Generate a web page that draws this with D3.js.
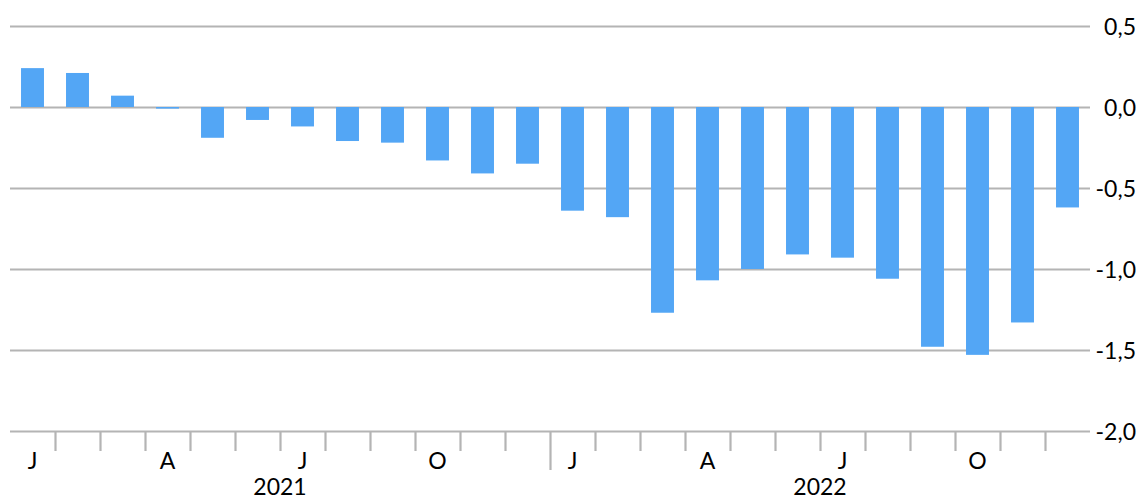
<!DOCTYPE html>
<html>
<head>
<meta charset="utf-8">
<script src="https://d3js.org/d3.v7.min.js"></script>
<style>
  body { margin: 0; background: #fff; }
  text { font-family: Lato, "Open Sans", sans-serif; fill: #000; }
</style>
</head>
<body>
<script>
// months Jan 2021 .. Dec 2022
var years = ["2021", "2022"];
var monthLabels = ["J", "", "", "A", "", "", "J", "", "", "O", "", ""];
var values = [0.24, 0.21, 0.07, -0.01, -0.19, -0.08, -0.12, -0.21, -0.22, -0.33, -0.41, -0.35,
              -0.64, -0.68, -1.27, -1.07, -1.00, -0.91, -0.93, -1.06, -1.48, -1.53, -1.33, -0.62];
var yTicks = [0.5, 0, -0.5, -1, -1.5, -2];

var w = 1141, h = 500;
var mLeft = 10, mRight = 1090, mTop = 26, mBottom = 431;

var svg = d3.select("body").append("svg").attr("width", w).attr("height", h);

var idx = d3.range(values.length);
var x = d3.scaleBand().domain(idx).range([mLeft, mRight]).paddingInner(0.49).paddingOuter(0.245);
var xb = d3.scaleLinear().domain([0, values.length]).range([mLeft, mRight]);
var y = d3.scaleLinear().domain([-2, 0.5]).range([mBottom, mTop]);

// gridlines + right labels
var yAxis = d3.axisRight(y).tickValues(yTicks).tickSize(-(mRight - mLeft))
  .tickFormat(function(d){ return d3.format(".1f")(d).replace(".", ",").replace("−", "-"); });
var yg = svg.append("g").attr("transform", "translate(" + mRight + ",0)").call(yAxis);
yg.select(".domain").remove();
yg.selectAll("line").attr("stroke", "#b4b4b4").attr("stroke-width", 2.2);
yg.selectAll("text").attr("x", 46).attr("text-anchor", "end").attr("dy", "0.36em")
  .style("font-size", "23px");

// bars
svg.append("g").selectAll("rect").data(values).enter().append("rect")
  .attr("x", function(d, i){ return x(i); })
  .attr("width", x.bandwidth())
  .attr("y", function(d){ return y(Math.max(0, d)); })
  .attr("height", function(d){ return Math.abs(y(d) - y(0)); })
  .attr("fill", "#53a6f5");

// category ticks between months
var xAxis = d3.axisBottom(xb).tickValues(d3.range(1, values.length)).tickSize(20).tickFormat("");
var xg = svg.append("g").attr("transform", "translate(0," + mBottom + ")").call(xAxis);
xg.select(".domain").remove();
xg.selectAll("line").attr("stroke", "#b4b4b4").attr("stroke-width", 2.2)
  .attr("y2", function(d){ return d % 12 === 0 ? 39 : 20; });

// month labels
svg.append("g").selectAll("text").data(idx).enter().append("text")
  .attr("x", function(i){ return x(i) + x.bandwidth() / 2; })
  .attr("y", 469)
  .attr("text-anchor", "middle")
  .style("font-size", "23px")
  .text(function(i){ return monthLabels[i % 12]; });

// year labels
svg.append("g").selectAll("text").data(years).enter().append("text")
  .attr("x", function(d, i){ return (xb(i * 12) + xb(i * 12 + 12)) / 2; })
  .attr("y", 495)
  .attr("text-anchor", "middle")
  .style("font-size", "23px")
  .text(function(d){ return d; });
</script>
</body>
</html>
